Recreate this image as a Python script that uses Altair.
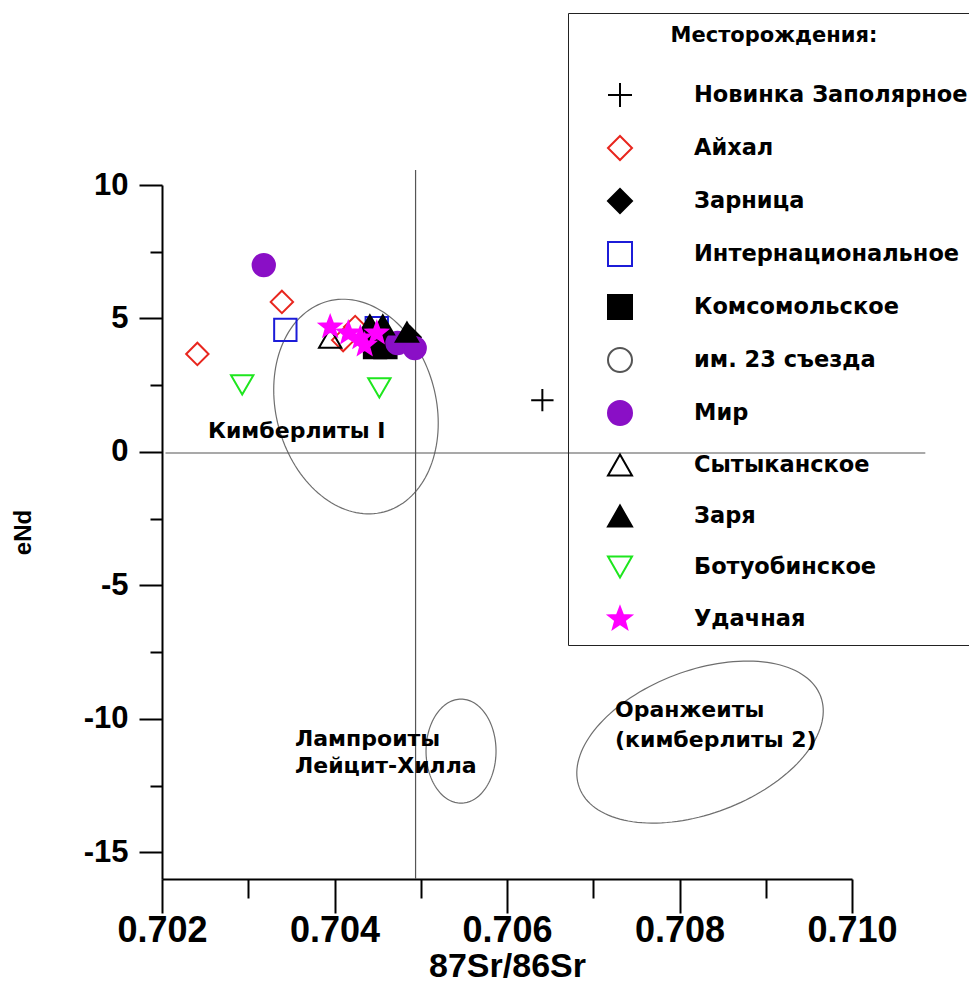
import math
import numpy as np
import pandas as pd
import altair as alt

# ---------------- data ----------------
CATS = ["Новинка Заполярное", "Айхал", "Зарница", "Интернациональное", "Комсомольское",
        "им. 23 съезда", "Мир", "Сытыканское", "Заря", "Ботуобинское", "Удачная"]

novinka_x = [0.70641]
novinka_y = [1.94]
aikhal_x = [0.70241, 0.70339, 0.70424, 0.70410]
aikhal_y = [3.67, 5.62, 4.68, 4.19]
zarnitsa_x = [0.70487]
zarnitsa_y = [4.30]
intern_x = [0.70343, 0.70449]
intern_y = [4.57, 4.64]
komsom_x = [0.70447, 0.70459]
komsom_y = [3.93, 3.93]
s23_x = []
s23_y = []
mir_x = [0.70318, 0.70473, 0.70493]
mir_y = [7.00, 4.08, 3.89]
sytyk_x = [0.70395]
sytyk_y = [4.27]
zarya_x = [0.70441, 0.70456, 0.70484]
zarya_y = [4.76, 4.76, 4.49]
botuob_x = [0.70293, 0.70452]
botuob_y = [2.51, 2.40]
udach_x = [0.70395, 0.70416, 0.70430, 0.70435, 0.70449]
udach_y = [4.68, 4.45, 4.27, 4.00, 4.45]

SERIES_X = [novinka_x, aikhal_x, zarnitsa_x, intern_x, komsom_x, s23_x, mir_x,
            sytyk_x, zarya_x, botuob_x, udach_x]
SERIES_Y = [novinka_y, aikhal_y, zarnitsa_y, intern_y, komsom_y, s23_y, mir_y,
            sytyk_y, zarya_y, botuob_y, udach_y]

# reference lines
VLINE_X = 0.70494
VLINE_Y = [10.56, -16]
HLINE_Y = -0.04
HLINE_X = [0.70204, 0.71085]

# field ellipses: name, centre x, centre y, semi-axis a (px), semi-axis b (px), rotation (deg)
ELL_NAMES = ["kimb", "lamp", "orang"]
ELL_CX = [0.704249, 0.705467, 0.708238]
ELL_CY = [1.70, -11.21, -10.87]
ELL_A = [80, 35, 129]
ELL_B = [109, 52, 71.5]
ELL_ROT = [15, 0, 20.8]

# annotation labels
LAB_TEXT = ["Кимберлиты I", "Лампроиты", "Лейцит-Хилла", "Оранжеиты", "(кимберлиты 2)"]
LAB_X = [0.702533, 0.703542, 0.703542, 0.707252, 0.707252]
LAB_Y = [0.78, -10.76, -11.77, -9.67, -10.79]

X_DOMAIN = [0.702, 0.710]
Y_DOMAIN = [-16, 10]
X_MAJOR = [0.702, 0.704, 0.706, 0.708, 0.710]
X_MINOR = [0.703, 0.705, 0.707, 0.709]
Y_MAJOR = [-15, -10, -5, 0, 5, 10]
Y_MINOR = [-12.5, -7.5, -2.5, 2.5, 7.5]

W, H = 690, 694

# ---------------- styles ----------------
star_pts = []
for k in range(10):
    ang = math.radians(-90 + 36 * k)
    r = 1.0 if k % 2 == 0 else 0.42
    star_pts.append(f"{r*math.cos(ang):.3f},{r*math.sin(ang):.3f}")
STAR = "M" + "L".join(star_pts) + "Z"
CROSS = "M-1,0L1,0M0,-1L0,1"

SHAPES = [CROSS, "diamond", "diamond", "square", "square", "circle", "circle",
          "triangle-up", "triangle-up", "triangle-down", STAR]
STROKES = ["black", "#e8261e", "black", "#1c1cd8", "black", "#555555", "#8a0fc6",
           "black", "black", "#1ee61e", "#ff00ff"]
FILLS = ["transparent", "transparent", "black", "transparent", "black", "transparent",
         "#8a0fc6", "transparent", "black", "transparent", "#ff00ff"]

# ---------------- frames ----------------
rows = []
for c, xs_, ys_ in zip(CATS, SERIES_X, SERIES_Y):
    for xv, yv in zip(xs_, ys_):
        rows.append({"x": xv, "y": yv, "deposit": c})
pts = pd.DataFrame(rows)

x_px = W / (X_DOMAIN[1] - X_DOMAIN[0])
y_px = H / (Y_DOMAIN[1] - Y_DOMAIN[0])
erows = []
t = np.linspace(0, 2 * np.pi, 145)
for n, cx, cy, a, b, r in zip(ELL_NAMES, ELL_CX, ELL_CY, ELL_A, ELL_B, ELL_ROT):
    ph = math.radians(r)
    dx = a * np.cos(t) * math.cos(ph) - b * np.sin(t) * math.sin(ph)
    dy = a * np.cos(t) * math.sin(ph) + b * np.sin(t) * math.cos(ph)
    for i in range(len(t)):
        erows.append({"x": cx + dx[i] / x_px, "y": cy + dy[i] / y_px, "name": n, "o": i})
ell = pd.DataFrame(erows)

vline = pd.DataFrame({"x": [VLINE_X], "y": [VLINE_Y[0]], "y2": [VLINE_Y[1]]})
hline = pd.DataFrame({"y": [HLINE_Y], "x": [HLINE_X[0]], "x2": [HLINE_X[1]]})
labs = pd.DataFrame({"x": LAB_X, "y": LAB_Y, "t": LAB_TEXT})

xs = alt.Scale(domain=X_DOMAIN, zero=False, nice=False)
ys = alt.Scale(domain=Y_DOMAIN, zero=False, nice=False)

AX_FONT = "Liberation Sans"
common = dict(domainColor="black", domainWidth=2, tickColor="black", tickWidth=2, grid=False)
x_major = alt.Axis(
    orient="bottom", values=X_MAJOR, format=".3f", tickSize=34,
    labelFont=AX_FONT, labelFontSize=36, labelFontWeight="bold", labelColor="black",
    labelPadding=0, labelFlush=False, labelOverlap=False,
    title="87Sr/86Sr", titleFont=AX_FONT, titleFontSize=34, titleFontWeight="bold",
    titleColor="black", titlePadding=1, **common)
x_minor = alt.Axis(orient="bottom", values=X_MINOR, tickSize=19, labels=False, title=None,
                   domain=False, tickColor="black", tickWidth=2, grid=False)
y_major = alt.Axis(
    orient="left", values=Y_MAJOR, tickSize=23,
    labelExpr="toString(datum.value)",
    labelFont=AX_FONT, labelFontSize=31, labelFontWeight="bold", labelColor="black",
    labelPadding=11, labelFlush=False, labelOverlap=False,
    title="eNd", titleFont=AX_FONT, titleFontSize=24, titleFontWeight="bold",
    titleColor="black", titlePadding=48, **common)
y_minor = alt.Axis(orient="left", values=Y_MINOR, tickSize=12, labels=False, title=None,
                   domain=False, tickColor="black", tickWidth=2, grid=False)

LEG_FONT = "DejaVu Sans"
legend = alt.Legend(
    orient="none", legendX=406, legendY=-172,
    title="Месторождения:", titleFont=LEG_FONT, titleFontSize=21, titleFontWeight="bold",
    titleColor="black", titleAnchor="middle", titlePadding=36, titleLimit=600,
    labelFont=LEG_FONT, labelFontSize=22.5, labelFontWeight="bold", labelColor="black",
    labelOffset=61, labelLimit=600,
    symbolSize=576, symbolStrokeWidth=2, symbolOffset=27,
    rowPadding=21, padding=12, strokeColor="#222222",
)

ellipses = alt.Chart(ell).mark_line(color="#6e6e6e", strokeWidth=1.2, clip=False).encode(
    x=alt.X("x:Q", scale=xs, axis=x_major),
    y=alt.Y("y:Q", scale=ys, axis=y_major),
    detail="name:N",
    order="o:Q",
)
vrule = alt.Chart(vline).mark_rule(color="#555555", strokeWidth=1.2, clip=False).encode(
    x=alt.X("x:Q", scale=xs, axis=x_minor), y=alt.Y("y:Q", scale=ys, axis=y_minor), y2="y2:Q")
hrule = alt.Chart(hline).mark_rule(color="#555555", strokeWidth=1.2, clip=False).encode(
    y=alt.Y("y:Q", scale=ys, axis=None), x=alt.X("x:Q", scale=xs, axis=None), x2="x2:Q")
texts = alt.Chart(labs).mark_text(
    align="left", baseline="middle", font=LEG_FONT, fontSize=22, fontWeight="bold",
    color="black").encode(x=alt.X("x:Q", scale=xs, axis=None),
                          y=alt.Y("y:Q", scale=ys, axis=None), text="t:N")

points = alt.Chart(pts).mark_point(filled=True, opacity=1, size=500, strokeWidth=2).encode(
    x=alt.X("x:Q", scale=xs, axis=None),
    y=alt.Y("y:Q", scale=ys, axis=None),
    shape=alt.Shape("deposit:N", scale=alt.Scale(domain=CATS, range=SHAPES), legend=legend,
                    title="Месторождения:"),
    fill=alt.Fill("deposit:N", scale=alt.Scale(domain=CATS, range=FILLS), legend=legend,
                  title="Месторождения:"),
    stroke=alt.Stroke("deposit:N", scale=alt.Scale(domain=CATS, range=STROKES), legend=legend,
                      title="Месторождения:"),
)

chart = alt.layer(ellipses, vrule, hrule, texts, points).resolve_axis(
    x="independent", y="independent"
).properties(
    width=W, height=H,
    padding={"left": 154, "top": 177, "right": 117, "bottom": 112},
    autosize=alt.AutoSizeParams(type="none"),
    background="white",
).configure_view(stroke=None)

chart.save("out.html", embed_options={"renderer": "svg", "actions": False})
